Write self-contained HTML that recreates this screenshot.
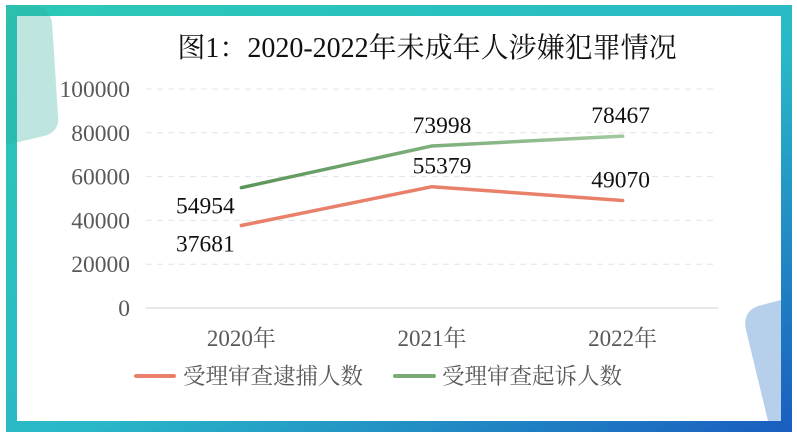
<!DOCTYPE html>
<html><head><meta charset="utf-8">
<style>
html,body{margin:0;padding:0;background:#fff;}
body{width:797px;height:447px;overflow:hidden;position:relative;}
svg{position:absolute;left:0;top:0;}
</style></head>
<body>
<svg width="797" height="447" viewBox="0 0 797 447">
<defs>
<linearGradient id="frame" x1="0" y1="0" x2="1" y2="1">
<stop offset="0" stop-color="#2cc9b6"/><stop offset="0.55" stop-color="#29b8c8"/><stop offset="1" stop-color="#1a5fc0"/>
</linearGradient>
<linearGradient id="gline" x1="0" y1="0" x2="1" y2="0">
<stop offset="0" stop-color="#5a9558"/><stop offset="1" stop-color="#a2c8a0"/>
</linearGradient>
</defs>
<rect x="11.5" y="10.5" width="775" height="416" fill="#fff" stroke="url(#frame)" stroke-width="11"/>
<path d="M6,5 L30,5 Q48,5 52,22 L58,115 Q60,132 44,136 L6,145 Z" fill="#2aa89a" opacity="0.3"/>
<path d="M781,300 L781,421 L768,421 L746,330 Q742,312 758,306 Z" fill="#6d9fd8" opacity="0.5"/>
<text x="427" y="57" text-anchor="middle" font-family="Liberation Serif, Noto Serif CJK SC, serif" font-size="28" fill="#111">图1：2020-2022年未成年人涉嫌犯罪情况</text>
<g id="grid"></g>
<g id="plot"></g>
<g font-family="Liberation Serif, Noto Serif CJK SC, serif" font-size="22.5" fill="#595959">
<line x1="136" y1="376" x2="174" y2="376" stroke="#e8806a" stroke-width="4" stroke-linecap="round"/>
<text x="183" y="384">受理审查逮捕人数</text>
<line x1="395" y1="376" x2="434" y2="376" stroke="#7aaa76" stroke-width="4" stroke-linecap="round"/>
<text x="442" y="384">受理审查起诉人数</text>
</g>
</svg>
<script>
const categories = ["2020年","2021年","2022年"];
const arrestValues = [37681,55379,49070];
const prosecuteValues = [54954,73998,78467];
const yTicks = [0,20000,40000,60000,80000,100000];
const arrestLabelPos = ["below","above","above"];
const prosecuteLabelPos = ["below","above","above"];

const NS="http://www.w3.org/2000/svg";
const x0=146,x1=718,yBase=308,yTop=89,yMax=100000;
function yScale(v){return yBase-(v/yMax)*(yBase-yTop);}
function xScale(i){return x0+(x1-x0)*(i+0.5)/categories.length;}
function mk(tag,attrs,parent){const e=document.createElementNS(NS,tag);for(const k in attrs)e.setAttribute(k,attrs[k]);parent.appendChild(e);return e;}
const grid=document.getElementById('grid'),plot=document.getElementById('plot');
const font="Liberation Serif, Noto Serif CJK SC, serif";
yTicks.forEach(t=>{
  const y=yScale(t);
  const l=mk('line',{x1:x0,x2:x1,y1:y,y2:y,stroke:t===0?'#d0d0d0':'#e4e4e4','stroke-width':1,'stroke-dasharray':t===0?'':'6,5'},grid);
  
  
  const tx=mk('text',{x:130,y:y+8,'text-anchor':'end','font-family':font,'font-size':23.5,fill:'#595959'},grid);
  tx.textContent=t;
  
  
});
categories.forEach((c,i)=>{
  const tx=mk('text',{x:xScale(i),y:346,'text-anchor':'middle','font-family':font,'font-size':23,fill:'#595959'},grid);
  tx.textContent=c;
  
  
});
function series(vals,pos,stroke,name){
  const pts=vals.map((v,i)=>xScale(i)+','+yScale(v)).join(' ');
  const pl=mk('polyline',{points:pts,fill:'none',stroke:stroke,'stroke-width':3.5,'stroke-linejoin':'round','stroke-linecap':'round'},plot);
  
  
  vals.forEach((v,i)=>{
    const y=yScale(v);
    const ly=pos[i]==='above'?y-13:y+26;
    const dx=i===0?-36:(i===1?10:-2);
    const t=mk('text',{x:xScale(i)+dx,y:ly,'text-anchor':'middle','font-family':font,'font-size':23.5,fill:'#111'},plot);
    t.textContent=v;
    
    
  });
}
series(arrestValues,arrestLabelPos,'#e8806a','arrest');
series(prosecuteValues,prosecuteLabelPos,'url(#gline)','prosecute');
</script>
</body></html>
